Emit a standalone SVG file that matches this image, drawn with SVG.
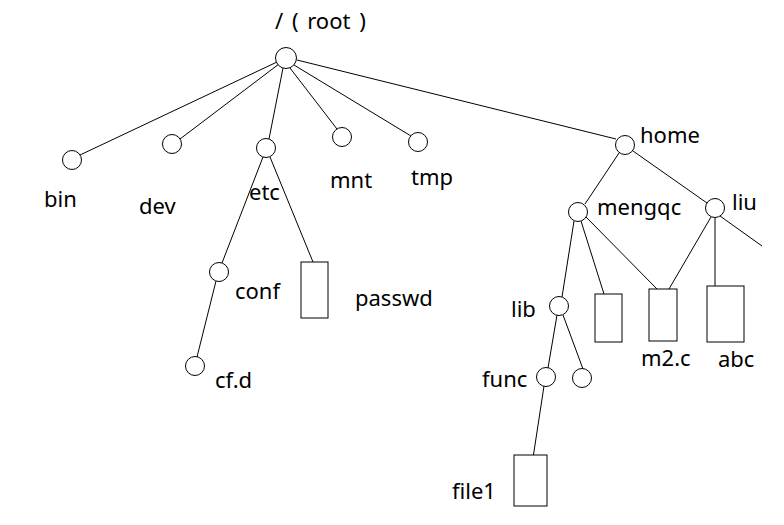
<svg xmlns="http://www.w3.org/2000/svg" width="784" height="525" viewBox="0 0 784 525">
<style>
.n{fill:#fff;stroke:#000;stroke-width:1}
.e line{stroke:#000;stroke-width:1}
text{font-family:"Noto Sans","Liberation Sans",sans-serif;font-size:22px;fill:#000}
</style>
<rect width="784" height="525" fill="#fff"/>
<g class="e" id="connectors">
<line x1="277" y1="62" x2="80" y2="155"/>
<line x1="279" y1="64" x2="180" y2="139"/>
<line x1="283" y1="68" x2="269" y2="139"/>
<line x1="290" y1="68" x2="337" y2="129"/>
<line x1="294" y1="65" x2="411" y2="136"/>
<line x1="297" y1="60" x2="616" y2="139"/>
<line x1="263" y1="157" x2="222" y2="263"/>
<line x1="270" y1="157" x2="313" y2="262"/>
<line x1="216" y1="281" x2="197" y2="357"/>
<line x1="619" y1="153" x2="585" y2="204"/>
<line x1="633" y1="151" x2="707" y2="203"/>
<line x1="574" y1="221" x2="562" y2="297"/>
<line x1="581" y1="221" x2="604" y2="294"/>
<line x1="586" y1="217" x2="657" y2="289"/>
<line x1="711" y1="217" x2="669" y2="289"/>
<line x1="715" y1="218" x2="715" y2="286"/>
<line x1="720" y1="216" x2="762" y2="246"/>
<line x1="557" y1="315" x2="548" y2="368"/>
<line x1="563" y1="315" x2="583" y2="369"/>
<line x1="544" y1="386" x2="533" y2="458"/>
</g>
<g id="root"><circle class="n" cx="286" cy="58" r="10.5"/><text x="275" y="29" word-spacing="3">/ ( root )</text></g>
<g id="bin"><circle class="n" cx="72" cy="160" r="9.5"/><text x="44" y="207">bin</text></g>
<g id="dev"><circle class="n" cx="172" cy="144" r="9.5"/><text x="139" y="214">dev</text></g>
<g id="etc"><circle class="n" cx="266" cy="148" r="9.5"/><text x="249" y="200">etc</text></g>
<g id="mnt"><circle class="n" cx="342" cy="137" r="9.5"/><text x="330" y="188">mnt</text></g>
<g id="tmp"><circle class="n" cx="418" cy="142" r="9.5"/><text x="411" y="185">tmp</text></g>
<g id="home"><circle class="n" cx="625" cy="145" r="9.5"/><text x="640" y="143">home</text></g>
<g id="mengqc"><circle class="n" cx="578" cy="212" r="9.5"/><text x="597" y="215">mengqc</text></g>
<g id="liu"><circle class="n" cx="715" cy="208" r="9.5"/><text x="732" y="210">liu</text></g>
<g id="conf"><circle class="n" cx="219" cy="272" r="9.5"/><text x="235" y="299">conf</text></g>
<g id="passwd"><rect class="n" x="301" y="262" width="27" height="56"/><text x="355" y="306">passwd</text></g>
<g id="cfd"><circle class="n" cx="195" cy="366" r="9.5"/><text x="215" y="388">cf.d</text></g>
<g id="lib"><circle class="n" cx="559" cy="306" r="9.5"/><text x="511" y="317">lib</text></g>
<g id="file-a"><rect class="n" x="595" y="294" width="27" height="48"/></g>
<g id="m2c"><rect class="n" x="649" y="289" width="28" height="52"/><text x="641" y="366">m2.c</text></g>
<g id="abc"><rect class="n" x="707" y="286" width="37" height="56"/><text x="718" y="367">abc</text></g>
<g id="func"><circle class="n" cx="546" cy="377" r="9.5"/><text x="482" y="387">func</text></g>
<g id="dir-b"><circle class="n" cx="582" cy="378" r="9.5"/></g>
<g id="file1"><rect class="n" x="514" y="455" width="33" height="51"/><text x="452" y="499">file1</text></g>
</svg>
